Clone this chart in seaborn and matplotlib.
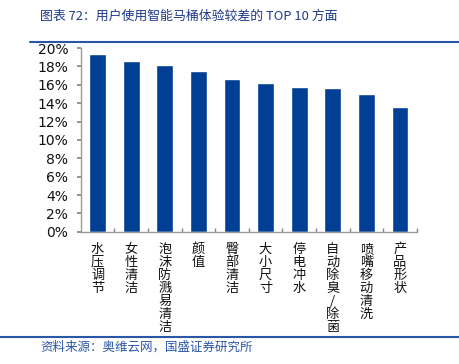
import matplotlib
matplotlib.use("Agg")
import matplotlib.pyplot as plt
import seaborn as sns
import pandas as pd
from matplotlib.ticker import PercentFormatter, FixedLocator

# 数据
categories = ["水压调节", "女性清洁", "泡沫防溅易清洁", "颜值", "臀部清洁",
              "大小尺寸", "停电冲水", "自动除臭/除菌", "喷嘴移动清洗", "产品形状"]
values = [19.4, 18.55, 18.2, 17.5, 16.6, 16.2, 15.8, 15.7, 15.0, 13.55]
y_ticks = [0, 2, 4, 6, 8, 10, 12, 14, 16, 18, 20]

title_text = "图表 72：用户使用智能马桶体验较差的 TOP 10 方面"
source_text = "资料来源：奥维云网，国盛证券研究所"

sns.set_theme(style="white")
plt.rcParams['font.family'] = ['Noto Sans CJK SC', 'DejaVu Sans']

df = pd.DataFrame({"cat": categories, "val": values})

fig = plt.figure(figsize=(4.59, 3.64), dpi=100)
ax = fig.add_axes([0.176, 0.363, 0.732, 0.505])

sns.barplot(data=df, x="cat", y="val", color="#003f94", width=0.5,
            saturation=1, ax=ax)

ax.set_ylim(0, 20)
ax.set_xlim(-0.5, len(categories) - 0.5)
ax.yaxis.set_major_locator(FixedLocator(y_ticks))
ax.yaxis.set_major_formatter(PercentFormatter(decimals=0))
ax.set_xlabel("")
ax.set_ylabel("")

# 竖排文字
ax.set_xticks(range(len(categories)))
ax.set_xticklabels(["\n".join(c) for c in categories], va="top",
                   linespacing=1.0, fontsize=9.5, color="#111111")
for lab in ax.get_yticklabels():
    lab.set_family(['DejaVu Sans'])
    lab.set_fontsize(10)
    lab.set_color("#111111")

ax.tick_params(axis="y", direction="out", length=3, color="#888888", left=True, pad=6)
ax.tick_params(axis="x", length=0, pad=8)
# 类别间的小刻度
ax.set_xticks([i + 0.5 for i in range(len(categories))], minor=True)
ax.tick_params(axis="x", which="minor", direction="in", length=3, color="#888888", bottom=True)

for side in ["top", "right"]:
    ax.spines[side].set_visible(False)
for side in ["left", "bottom"]:
    ax.spines[side].set_color("#999999")
    ax.spines[side].set_linewidth(1)

# 标题和来源
fig.text(0.087, 0.955, title_text, fontsize=9.3, color="#1f3a8a", style="italic",
         ha="left", va="center")
fig.add_artist(plt.Line2D([0.066, 1.0], [0.884, 0.884], color="#2a56a6", lw=1.5))
fig.add_artist(plt.Line2D([0.0, 1.0], [0.074, 0.074], color="#2a56a6", lw=1.5))
fig.text(0.087, 0.047, source_text, fontsize=9, color="#2a56a6", style="italic",
         ha="left", va="center")

fig.savefig("out.png", dpi=100)
